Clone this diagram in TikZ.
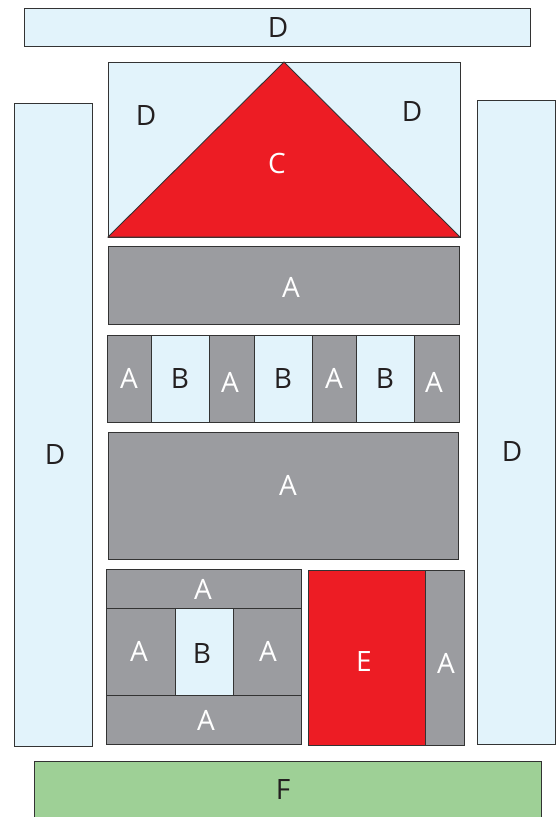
\documentclass[tikz,border=0pt]{standalone}
\usepackage{fontspec}
\setmainfont{Open Sans}
\definecolor{grayA}{RGB}{155,156,160}
\definecolor{blueD}{RGB}{226,243,251}
\definecolor{redC}{RGB}{237,28,36}
\definecolor{greenF}{RGB}{158,208,150}
\definecolor{edge}{RGB}{51,51,51}
\definecolor{ink}{RGB}{35,31,32}
\tikzset{
  boxA/.style={fill=grayA,draw=edge,line width=0.9pt},
  boxD/.style={fill=blueD,draw=edge,line width=0.9pt},
  boxR/.style={fill=redC,draw=edge,line width=0.9pt},
  boxF/.style={fill=greenF,draw=edge,line width=0.9pt},
  wlab/.style={text=white,font=\fontsize{28}{30}\selectfont,inner sep=0pt},
  dlab/.style={text=ink,font=\fontsize{28}{30}\selectfont,inner sep=0pt}
}
\begin{document}
\begin{tikzpicture}[x=1pt,y=-1pt]
\useasboundingbox (0,0) rectangle (559,817);
\clip (0,0) rectangle (559,817);
% top D
\draw[boxD] (24,8) rectangle (530,46);
\node[dlab] (dtop) at (278,28) {D};
% triangle box
\draw[boxD] (108,62) rectangle (460,237);
\draw[boxR] (108,237) -- (284,62) -- (460,237) -- cycle;
\node[dlab] (dtl) at (146,116) {D};
\node[dlab] (dtr) at (412,112) {D};
\node[wlab] (c) at (277,163) {C};
% side D columns
\draw[boxD] (14,103) rectangle (92,746);
\node[dlab] (dleft) at (55,454) {D};
\draw[boxD] (477,100) rectangle (555,744);
\node[dlab] (dright) at (512,451) {D};
% A1
\draw[boxA] (108,246) rectangle (459,324);
\node[wlab] (a1) at (291,287) {A};
% row of A/B
\draw[boxA] (107,335) rectangle (151,422);
\draw[boxD] (151,335) rectangle (209,422);
\draw[boxA] (209,335) rectangle (254,422);
\draw[boxD] (254,335) rectangle (312,422);
\draw[boxA] (312,335) rectangle (356,422);
\draw[boxD] (356,335) rectangle (414,422);
\draw[boxA] (414,335) rectangle (459,422);
\node[wlab] (r1) at (129,378) {A};
\node[dlab] (r2) at (180,378) {B};
\node[wlab] (r3) at (230,382) {A};
\node[dlab] (r4) at (283,378) {B};
\node[wlab] (r5) at (334,378) {A};
\node[dlab] (r6) at (385,378) {B};
\node[wlab] (r7) at (434,382) {A};
% A2
\draw[boxA] (108,432) rectangle (458,559);
\node[wlab] (a2) at (288,485) {A};
% bottom-left block
\draw[boxA] (106,569) rectangle (301,608);
\draw[boxA] (106,608) rectangle (175,695);
\draw[boxD] (175,608) rectangle (233,695);
\draw[boxA] (233,608) rectangle (301,695);
\draw[boxA] (106,695) rectangle (301,744);
\node[wlab] (bl1) at (203,589) {A};
\node[wlab] (bl2) at (139,651) {A};
\node[dlab] (bl3) at (202,653) {B};
\node[wlab] (bl4) at (268,651) {A};
\node[wlab] (bl5) at (206,720) {A};
% E and A
\draw[boxR] (308,570) rectangle (425,745);
\draw[boxA] (425,570) rectangle (464,745);
\node[wlab] (e) at (364,661) {E};
\node[wlab] (ea) at (446,663) {A};
% F
\draw[boxF] (34,761) rectangle (541,830);
\node[dlab] (f) at (283,789) {F};
\end{tikzpicture}
\end{document}
